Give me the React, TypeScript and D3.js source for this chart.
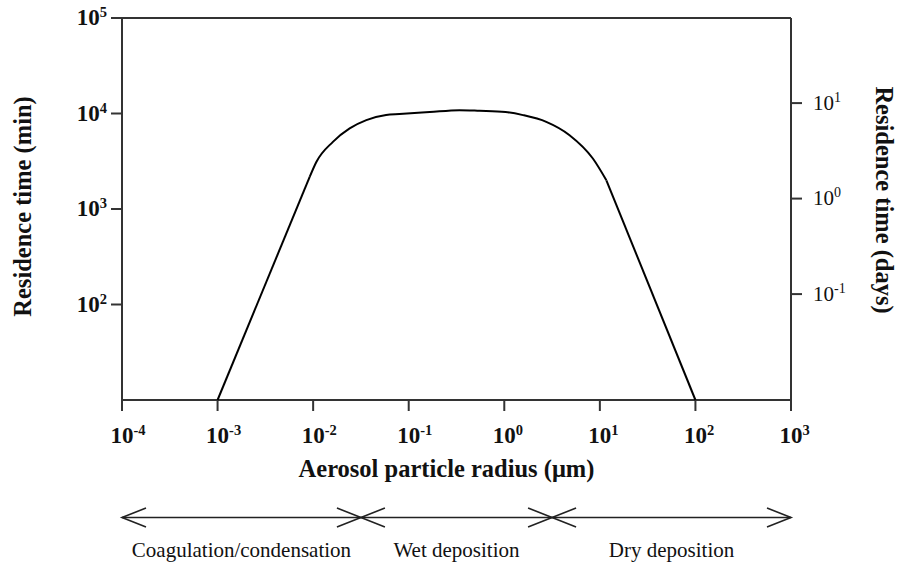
import React from "react";
import * as d3 from "d3";

// Residence time of aerosol particles versus radius
const radiusUm = [0.001, 0.0092, 0.0108, 0.0161, 0.0241, 0.036, 0.058, 0.08, 0.166, 0.34, 0.55, 1.03, 1.57, 2.75, 4.82, 8.45, 11.7, 100];
const residenceMin = [10, 2170, 3110, 5050, 6980, 8530, 9620, 9860, 10350, 10840, 10670, 10350, 9620, 8180, 5930, 3380, 2000, 10];

const xTickExps = [-4, -3, -2, -1, 0, 1, 2, 3];
const yMinTickExps = [2, 3, 4, 5];
const yDayTickExps = [1, 0, -1];

// Removal regimes along the radius axis (bounds in µm)
const regimeNames = ["Coagulation/condensation", "Wet deposition", "Dry deposition"];
const regimeBounds = [1e-4, 10 ** -1.5, 10 ** 0.5, 1e3];

const W = 898;
const H = 563;
const M = { left: 122, right: 791, top: 18, bottom: 400 };

const AXIS = "#333";
const INK = "#111";
const SERIF = "'Liberation Serif', 'Times New Roman', serif";

export default function App() {
  const x = d3.scaleLog().domain([1e-4, 1e3]).range([M.left, M.right]);
  const y = d3.scaleLog().domain([10, 1e5]).range([M.bottom, M.top]);
  const yDays = d3.scaleLog().domain([10 ** -2.109, 10 ** 1.891]).range([M.bottom, M.top]);

  const pts: [number, number][] = radiusUm.map((r, i) => [r, residenceMin[i]]);
  const n = pts.length;
  const straight = d3
    .line<[number, number]>()
    .x((d) => x(d[0]))
    .y((d) => y(d[1]));
  const smooth = straight.curve(d3.curveMonotoneX);
  const rising = d3.line<[number, number]>().x((d) => x(d[0])).y((d) => y(d[1]))(pts.slice(0, 2)) ?? "";
  const plateau = smooth(pts.slice(1, n - 1)) ?? "";
  const falling = d3.line<[number, number]>().x((d) => x(d[0])).y((d) => y(d[1]))(pts.slice(n - 2)) ?? "";

  const arrowY = 517.5;
  const headL = 24;
  const headH = 9.5;

  const chevron = (tipX: number, dir: 1 | -1) =>
    `M${tipX - dir * headL},${arrowY - headH} L${tipX},${arrowY} L${tipX - dir * headL},${arrowY + headH}`;

  return (
    <svg
      width={W}
      height={H}
      viewBox={`0 0 ${W} ${H}`}
      style={{ position: "absolute", left: 0, top: 0, background: "#fff" }}
    >
      {/* frame */}
      <g stroke={AXIS} strokeWidth={2} fill="none">
        <line x1={M.left} y1={M.bottom} x2={M.right} y2={M.bottom} />
        <line x1={M.left} y1={M.top} x2={M.left} y2={M.bottom} />
        <line x1={M.right} y1={M.top} x2={M.right} y2={M.bottom} />
        <line x1={M.left} y1={M.top} x2={M.right} y2={M.top} />
      </g>

      {/* bottom axis */}
      <g fontFamily={SERIF} fontWeight="bold" fill={INK}>
        {xTickExps.map((e) => {
          const px = x(10 ** e);
          return (
            <g key={e}>
              <line x1={px} y1={M.bottom} x2={px} y2={M.bottom + 11} stroke={AXIS} strokeWidth={2} />
              <text x={px - 11.5} y={443} fontSize={23}>
                10
                <tspan fontSize={14.5} dy={-8}>
                  {e < 0 ? `-${-e}` : `${e}`}
                </tspan>
              </text>
            </g>
          );
        })}
      </g>

      {/* left axis: minutes */}
      <g fontFamily={SERIF} fontWeight="bold" fill={INK}>
        {yMinTickExps.map((e) => {
          const py = y(10 ** e);
          return (
            <g key={e}>
              <line x1={M.left - 11} y1={py} x2={M.left} y2={py} stroke={AXIS} strokeWidth={2} />
              <text x={107} y={py + 7} fontSize={23} textAnchor="end">
                10
                <tspan fontSize={14.5} dy={-8}>
                  {e}
                </tspan>
              </text>
            </g>
          );
        })}
      </g>

      {/* right axis: days */}
      <g fontFamily={SERIF} fill={INK}>
        {yDayTickExps.map((e) => {
          const py = yDays(10 ** e);
          return (
            <g key={e}>
              <line x1={M.right} y1={py} x2={M.right + 11} y2={py} stroke={AXIS} strokeWidth={2} />
              <text x={813} y={py + 6.5} fontSize={21}>
                10
                <tspan fontSize={14} dy={-8}>
                  {e < 0 ? `-${-e}` : `${e}`}
                </tspan>
              </text>
            </g>
          );
        })}
      </g>

      {/* residence time curve */}
      <g fill="none" stroke="#000" strokeWidth={2} strokeLinejoin="round">
        <path d={rising} />
        <path d={plateau} />
        <path d={falling} />
      </g>

      {/* axis titles */}
      <g fontFamily={SERIF} fontWeight="bold" fill={INK} fontSize={24.5}>
        <text x={446.5} y={477} textAnchor="middle">
          Aerosol particle radius (μm)
        </text>
        <text transform="translate(31,206.5) rotate(-90)" textAnchor="middle">
          Residence time (min)
        </text>
        <text transform="translate(876,200) rotate(90)" textAnchor="middle">
          Residence time (days)
        </text>
      </g>

      {/* regime arrows */}
      <g stroke="#222" strokeWidth={1.6} fill="none">
        <line x1={x(regimeBounds[0])} y1={arrowY} x2={x(regimeBounds[3])} y2={arrowY} />
        {regimeBounds.slice(0, 3).map((b, i) => (
          <path key={`l${i}`} d={chevron(x(b), -1)} />
        ))}
        {regimeBounds.slice(1).map((b, i) => (
          <path key={`r${i}`} d={chevron(x(b), 1)} />
        ))}
      </g>
      <g fontFamily={SERIF} fill={INK} fontSize={21} textAnchor="middle">
        {regimeNames.map((name, i) => (
          <text key={name} x={(x(regimeBounds[i]) + x(regimeBounds[i + 1])) / 2} y={557}>
            {name}
          </text>
        ))}
      </g>
    </svg>
  );
}
